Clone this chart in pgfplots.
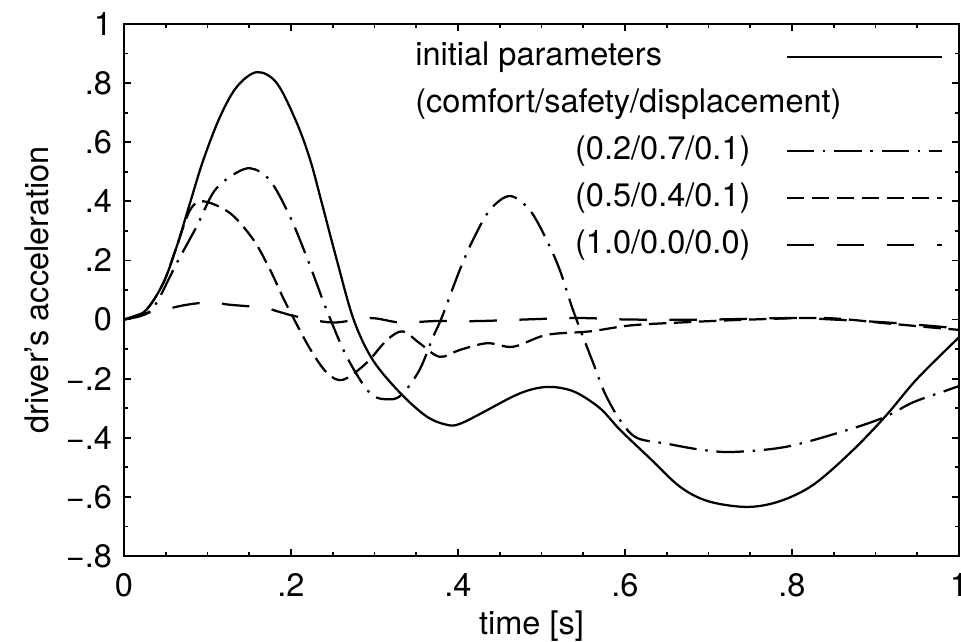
\documentclass[border=0pt]{standalone}
\usepackage{fontspec}
\setmainfont{TeX Gyre Heros}
\usepackage{pgfplots}
\pgfplotsset{compat=1.18}

\begin{document}
\begin{tikzpicture}
\begin{axis}[
  scale only axis,
  width=334pt,height=212.8pt,
  font=\fontsize{13}{15}\selectfont,
  xmin=0,xmax=1,ymin=-0.8,ymax=1,
  xtick={0,0.2,0.4,0.6,0.8,1},
  xticklabels={0,.2,.4,.6,.8,1},
  ytick={-0.8,-0.6,-0.4,-0.2,0,0.2,0.4,0.6,0.8,1},
  yticklabels={−.8,−.6,−.4,−.2,0,.2,.4,.6,.8,1},
  minor x tick num=3,
  minor y tick num=1,
  tick align=inside,
  major tick length=2.8pt,
  minor tick length=1.6pt,
  axis line style={line width=0.9pt},
  every tick/.style={line width=0.7pt,black},
  xticklabel style={yshift=-3.3pt},
  yticklabel style={xshift=-1.3pt},
  xlabel={time [s]},
  ylabel={driver’s acceleration},
  xlabel style={yshift=1pt,xshift=-4pt},
  legend cell align=right,
  legend plot pos=right,
  legend image code/.code={\draw[#1] (0pt,0pt) -- (62pt,0pt);},
  legend style={draw=none,fill=none,at={(0.981,0.970)},anchor=north east,
    inner sep=0pt,row sep=5.8pt,column sep=14pt,
    nodes={inner sep=0pt,text height=10pt,text depth=3pt},
    font=\fontsize{13}{15}\selectfont},
]
\coordinate (sw) at (rel axis cs:0,0);
\coordinate (ne) at (rel axis cs:1,1);

% initial parameters
\addplot[black,line width=0.9pt,smooth,tension=0.55] coordinates {
(0,0) (0.012,0.01) (0.0275,0.035) (0.047,0.123) (0.063,0.246) (0.079,0.394)
(0.095,0.54) (0.115,0.686) (0.135,0.787) (0.159,0.837) (0.183,0.8)
(0.207,0.665) (0.223,0.54) (0.235,0.415) (0.255,0.2) (0.275,0.0)
(0.298,-0.137) (0.331,-0.249) (0.363,-0.329) (0.388,-0.357) (0.402,-0.353)
(0.426,-0.32) (0.466,-0.26) (0.49,-0.235) (0.513,-0.228) (0.54,-0.245)
(0.57,-0.3) (0.594,-0.373) (0.63,-0.47) (0.666,-0.566) (0.7,-0.615)
(0.746,-0.634) (0.785,-0.615) (0.825,-0.56) (0.87,-0.45) (0.911,-0.33)
(0.95,-0.2) (1.0,-0.06)};
\addlegendentry{\makebox[134pt][l]{initial parameters}}
\addlegendimage{empty legend}
\addlegendentry{\makebox[134pt][l]{(comfort/safety/displacement)}}

% (0.2/0.7/0.1)
\addplot[black,line width=0.9pt,smooth,tension=0.55,dash pattern=on 11pt off 3.5pt on 1pt off 3.5pt] coordinates {
(0,0) (0.02,0.012) (0.032,0.03) (0.043,0.077) (0.063,0.19) (0.087,0.315)
(0.107,0.43) (0.127,0.483) (0.151,0.512) (0.175,0.47) (0.199,0.347)
(0.219,0.21) (0.231,0.12) (0.243,0.03) (0.267,-0.127) (0.295,-0.25)
(0.319,-0.27) (0.334,-0.25) (0.354,-0.17) (0.37,-0.06) (0.381,0.01)
(0.402,0.167) (0.418,0.27) (0.438,0.37) (0.462,0.418) (0.486,0.37)
(0.506,0.27) (0.522,0.167) (0.538,0.03) (0.562,-0.148) (0.576,-0.25)
(0.594,-0.34) (0.614,-0.4) (0.65,-0.42) (0.69,-0.44) (0.729,-0.448)
(0.794,-0.43) (0.866,-0.374) (0.911,-0.33) (0.945,-0.28) (0.985,-0.24)
(1.0,-0.225)};
\addlegendentry{(0.2/0.7/0.1)}

% (0.5/0.4/0.1)
\addplot[black,line width=0.9pt,smooth,tension=0.55,dash pattern=on 7pt off 3pt] coordinates {
(0,0) (0.012,0.01) (0.0275,0.035) (0.047,0.123) (0.063,0.246) (0.079,0.37)
(0.095,0.4) (0.127,0.36) (0.155,0.27) (0.175,0.168) (0.19,0.077)
(0.202,0.01) (0.223,-0.1) (0.243,-0.18) (0.262,-0.204) (0.29,-0.148)
(0.315,-0.069) (0.334,-0.04) (0.354,-0.08) (0.378,-0.126) (0.402,-0.103)
(0.435,-0.08) (0.466,-0.092) (0.506,-0.052) (0.558,-0.04) (0.606,-0.02)
(0.666,-0.01) (0.75,0.0) (0.84,0.005) (0.914,-0.013) (0.96,-0.025)
(1.0,-0.035)};
\addlegendentry{(0.5/0.4/0.1)}

% (1.0/0.0/0.0)
\addplot[black,line width=0.9pt,smooth,tension=0.55,dash pattern=on 11pt off 9pt] coordinates {
(0,0) (0.023,0.02) (0.047,0.033) (0.075,0.05) (0.103,0.058) (0.127,0.05)
(0.167,0.04) (0.187,0.025) (0.207,0.01) (0.25,-0.01) (0.295,0.005)
(0.331,-0.01) (0.374,-0.005) (0.426,-0.005) (0.538,0.005) (0.606,0.0)
(0.7,0.0) (0.8,0.005) (0.85,0.0) (0.914,-0.01) (0.96,-0.02) (1.0,-0.03)};
\addlegendentry{(1.0/0.0/0.0)}
\end{axis}
\pgfresetboundingbox
\useasboundingbox ([shift={(-49.6pt,-34pt)}]sw) rectangle ([shift={(0.8pt,9.6pt)}]ne);
\end{tikzpicture}
\end{document}
